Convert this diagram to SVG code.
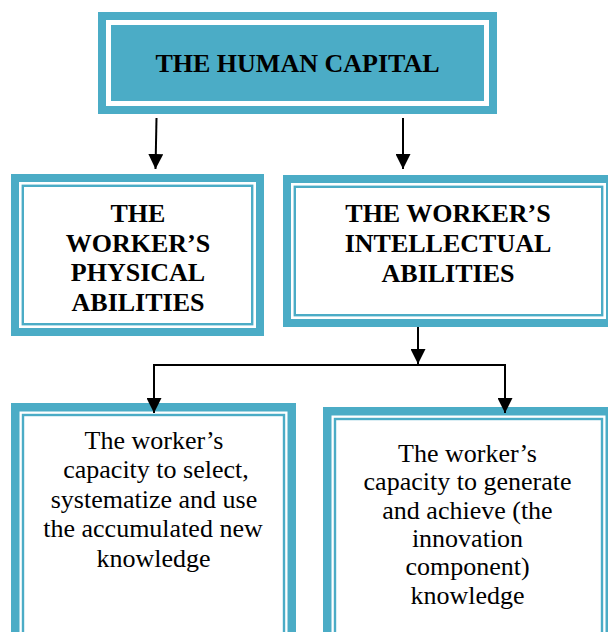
<svg xmlns="http://www.w3.org/2000/svg" width="608" height="632" viewBox="0 0 608 632">
  <defs>
    <style>
      .outer { fill: #4BACC6; }
      .gap { fill: #FFFFFF; }
      .thin { fill: none; stroke: #4BACC6; stroke-width: 2.4; }
      .ring { fill: none; stroke: #FFFFFF; stroke-width: 5; }
      .b { font-weight: bold; font-size: 26px; fill: #000; text-anchor: middle; }
      .r { font-size: 26px; fill: #000; text-anchor: middle; }
      .conn { fill: none; stroke: #000; stroke-width: 2; }
    </style>
    <marker id="arrow" markerUnits="userSpaceOnUse" markerWidth="15" markerHeight="15" refX="15" refY="7.5" orient="auto" viewBox="0 0 15 15">
      <path d="M0,0 L15,7.5 L0,15 Z" fill="#000"/>
    </marker>
  </defs>
  <rect width="608" height="632" fill="#FFFFFF"/>

  <g id="human-capital">
    <rect class="outer" x="98" y="12" width="399" height="102"/>
    <rect class="ring" x="108.5" y="22.5" width="378" height="81"/>
    <text class="b" font-family="'Liberation Serif', serif" x="297.5" y="72">THE HUMAN CAPITAL</text>
  </g>

  <g id="physical-abilities" font-family="'Liberation Serif', serif">
    <rect class="outer" x="11" y="174" width="253" height="162"/>
    <rect class="gap" x="19" y="182" width="237" height="146"/>
    <rect class="thin" x="22.8" y="185.8" width="229.4" height="138.4"/>
    <text class="b" x="138" y="222">THE</text>
    <text class="b" x="138" y="251.6">WORKER’S</text>
    <text class="b" x="138" y="281.2">PHYSICAL</text>
    <text class="b" x="138" y="310.8">ABILITIES</text>
  </g>

  <g id="intellectual-abilities" font-family="'Liberation Serif', serif">
    <rect class="outer" x="283" y="175" width="331" height="152"/>
    <rect class="gap" x="291" y="183" width="315" height="136"/>
    <rect class="thin" x="294.8" y="186.8" width="307.4" height="128.4"/>
    <text class="b" x="448" y="222">THE WORKER’S</text>
    <text class="b" x="448" y="251.7">INTELLECTUAL</text>
    <text class="b" x="448" y="281.5">ABILITIES</text>
  </g>

  <g id="select-systematize" font-family="'Liberation Serif', serif">
    <rect class="outer" x="11" y="403" width="285" height="240"/>
    <rect class="gap" x="19.5" y="411.5" width="268" height="240"/>
    <rect class="thin" x="23" y="415" width="261" height="240"/>
    <text class="r" x="154" y="448.5">The worker’s</text>
    <text class="r" x="156" y="478">capacity to select,</text>
    <text class="r" x="154" y="507.5">systematize and use</text>
    <text class="r" x="153" y="537">the accumulated new</text>
    <text class="r" x="153.5" y="566.5">knowledge</text>
  </g>

  <g id="generate-achieve" font-family="'Liberation Serif', serif">
    <rect class="outer" x="323" y="407" width="291" height="240"/>
    <rect class="gap" x="331.5" y="415.5" width="274" height="240"/>
    <rect class="thin" x="335" y="419" width="267" height="240"/>
    <text class="r" x="467.5" y="462">The worker’s</text>
    <text class="r" x="467.5" y="490.3">capacity to generate</text>
    <text class="r" x="467.5" y="518.6">and achieve (the</text>
    <text class="r" x="467.5" y="546.9">innovation</text>
    <text class="r" x="467.5" y="575.2">component)</text>
    <text class="r" x="467.5" y="603.5">knowledge</text>
  </g>

  <g id="connectors">
    <path class="conn" d="M156.5,118 L155.5,169" marker-end="url(#arrow)"/>
    <path class="conn" d="M403,118 L403,169" marker-end="url(#arrow)"/>
    <path class="conn" d="M418,327 L418,364" marker-end="url(#arrow)"/>
    <path class="conn" d="M418,365 H154 V413" marker-end="url(#arrow)"/>
    <path class="conn" d="M418,365 H505 V413" marker-end="url(#arrow)"/>
  </g>
</svg>
